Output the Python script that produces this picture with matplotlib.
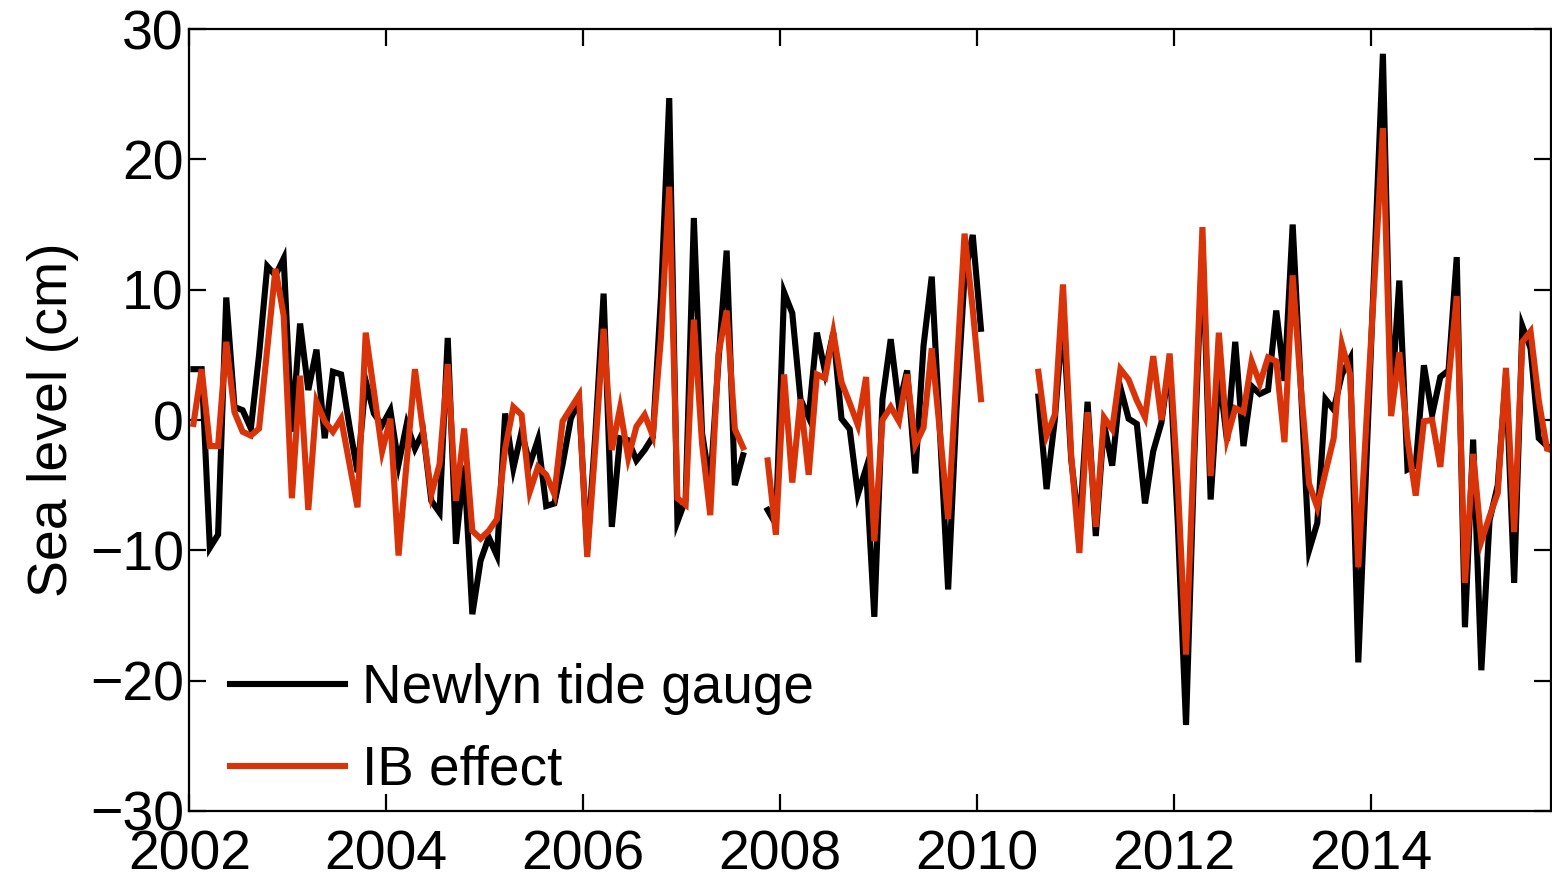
import numpy as np
import matplotlib
matplotlib.use("Agg")
import matplotlib.pyplot as plt

plt.rcParams['font.family'] = ['Liberation Sans', 'DejaVu Sans']

# Monthly anomalies (cm), January 2002 onwards; NaN marks missing months
start_year = 2002
tide_gauge = [
    3.9, 3.9, -9.8, -8.8, 9.4, 1.0, 0.75, -0.65, 5.0, 11.8, 11.1, 12.4,
    -0.9, 7.4, 2.3, 5.4, -1.4, 3.7, 3.5, -0.4, -4.0, 3.0, 0.5, -0.4,
    0.75, -3.4, -0.3, -2.2, -0.9, -6.2, -7.1, 6.3, -9.5, -3.5, -14.9, -10.8,
    -9.0, -10.4, 0.5, -3.7, -0.9, -3.4, -1.5, -6.6, -6.4, -3.4, 0.1, 1.5,
    -10.0, -1.0, 9.7, -8.2, -1.4, -1.55, -3.1, -2.3, -1.3, 9.5, 24.7, -7.8,
    -6.1, 15.5, -1.0, -5.0, 4.5, 13.0, -5.0, -2.7, np.nan, np.nan, -6.9, -8.0,
    9.8, 8.2, 1.6, 0.2, 6.7, 3.7, 6.7, 0.1, -0.7, -5.7, -3.7, -15.1,
    1.6, 6.2, 1.1, 3.8, -4.1, 5.7, 11.0, -0.9, -13.0, 0.6, 11.0, 14.2,
    7.0, np.nan, np.nan, np.nan, np.nan, np.nan, np.nan, 1.8, -5.3, 0.0, 8.0, -3.0,
    -8.5, 1.4, -8.9, -0.3, -3.5, 2.5, 0.1, -0.3, -6.4, -2.4, -0.2, 4.5,
    -8.0, -23.4, -3.0, 13.5, -6.1, 3.7, -1.6, 6.0, -2.0, 2.6, 2.0, 2.3,
    8.4, 3.0, 15.0, 2.5, -10.0, -7.9, 1.6, 0.8, 3.5, 4.7, -18.6, -3.0,
    12.5, 28.1, 1.0, 10.7, -3.8, -3.5, 4.2, 0.4, 3.3, 3.8, 12.5, -15.9,
    -1.5, -19.2, -7.7, -5.0, 3.5, -12.5, 7.2, 5.5, -1.4, -2.0, -2.3,
]
ib_effect = [
    -0.3, 3.9, -2.0, -2.0, 6.0, 0.6, -0.9, -1.2, -0.65, 5.5, 11.6, 8.0,
    -6.0, 3.4, -6.9, 1.4, -0.1, -0.9, 0.1, -3.3, -6.7, 6.7, 2.2, -2.4,
    0.1, -10.4, -3.2, 3.9, -0.9, -5.7, -3.4, 4.3, -6.2, -0.65, -8.5, -9.1,
    -8.5, -7.6, -2.2, 1.0, 0.4, -5.5, -3.6, -4.2, -5.7, -0.1, 0.9, 1.9,
    -10.5, -2.0, 7.0, -2.3, 0.9, -2.9, -0.5, 0.4, -1.2, 6.4, 17.9, -6.0,
    -6.5, 7.7, -1.8, -7.3, 5.1, 8.4, -0.7, -2.1, np.nan, np.nan, -3.1, -8.8,
    3.5, -4.8, 1.6, -4.2, 3.5, 3.2, 6.7, 2.9, 1.3, -0.4, 3.3, -9.3,
    0.0, 1.0, -0.1, 3.5, -1.9, -0.6, 5.5, -0.9, -7.6, 3.4, 14.3, 8.5,
    1.6, np.nan, np.nan, np.nan, np.nan, np.nan, np.nan, 3.7, -1.2, 0.4, 10.4, -2.7,
    -10.2, 0.6, -8.2, 0.2, -0.7, 3.9, 3.1, 1.5, 0.2, 4.9, 0.0, 5.1,
    -5.0, -18.0, -1.5, 14.8, -4.3, 6.7, -1.4, 0.9, 0.6, 4.5, 2.8, 4.8,
    4.5, -1.7, 11.1, 2.5, -4.9, -6.7, -4.0, -1.4, 5.8, 3.5, -11.3, 0.0,
    11.0, 22.4, 0.3, 5.2, -1.5, -5.8, -0.1, 0.0, -3.6, 3.0, 9.5, -12.5,
    -2.6, -9.3, -7.4, -5.6, 4.0, -8.6, 6.0, 6.8, 1.5, -2.2, -2.4,
]
series_labels = ["Newlyn tide gauge", "IB effect"]
x_ticks = [2002, 2004, 2006, 2008, 2010, 2012, 2014]
y_ticks = [-30, -20, -10, 0, 10, 20, 30]

# mid-month time stamps in decimal years
t = start_year + (np.arange(len(tide_gauge)) + 0.5) / 12.0
gauge = np.array(tide_gauge, dtype=float)
ib = np.array(ib_effect, dtype=float)

fig = plt.figure(figsize=(15.52, 8.82), dpi=100)
ax = fig.add_axes([0.122, 0.0805, 0.8774, 0.8866])

red = '#D93409'
ax.plot(t, gauge, color='black', lw=4.4, label=series_labels[0], solid_joinstyle='miter')
ax.plot(t, ib, color=red, lw=4.4, label=series_labels[1], solid_joinstyle='miter')

ax.set_xlim(2002, 2002 + 166 / 12.0)
ax.set_ylim(-30, 30)
ax.set_xticks(x_ticks)
ax.set_yticks(y_ticks)

ax.tick_params(axis='both', direction='in', length=12, width=1.6,
               labelsize=40, top=True, right=True, pad=4)
ax.tick_params(axis='x', pad=13)
for s in ax.spines.values():
    s.set_linewidth(1.6)

ax.set_ylabel('Sea level (cm)', fontsize=40, labelpad=8)

leg = ax.legend(loc='lower left', bbox_to_anchor=(0.022, 0.004), frameon=False,
                fontsize=39.5, handlelength=2.1, handletextpad=0.3,
                labelspacing=0.55, borderpad=0.2, borderaxespad=0.0)
for h in leg.get_lines():
    h.set_linewidth(4.4)

fig.savefig('out.png', dpi=100)
